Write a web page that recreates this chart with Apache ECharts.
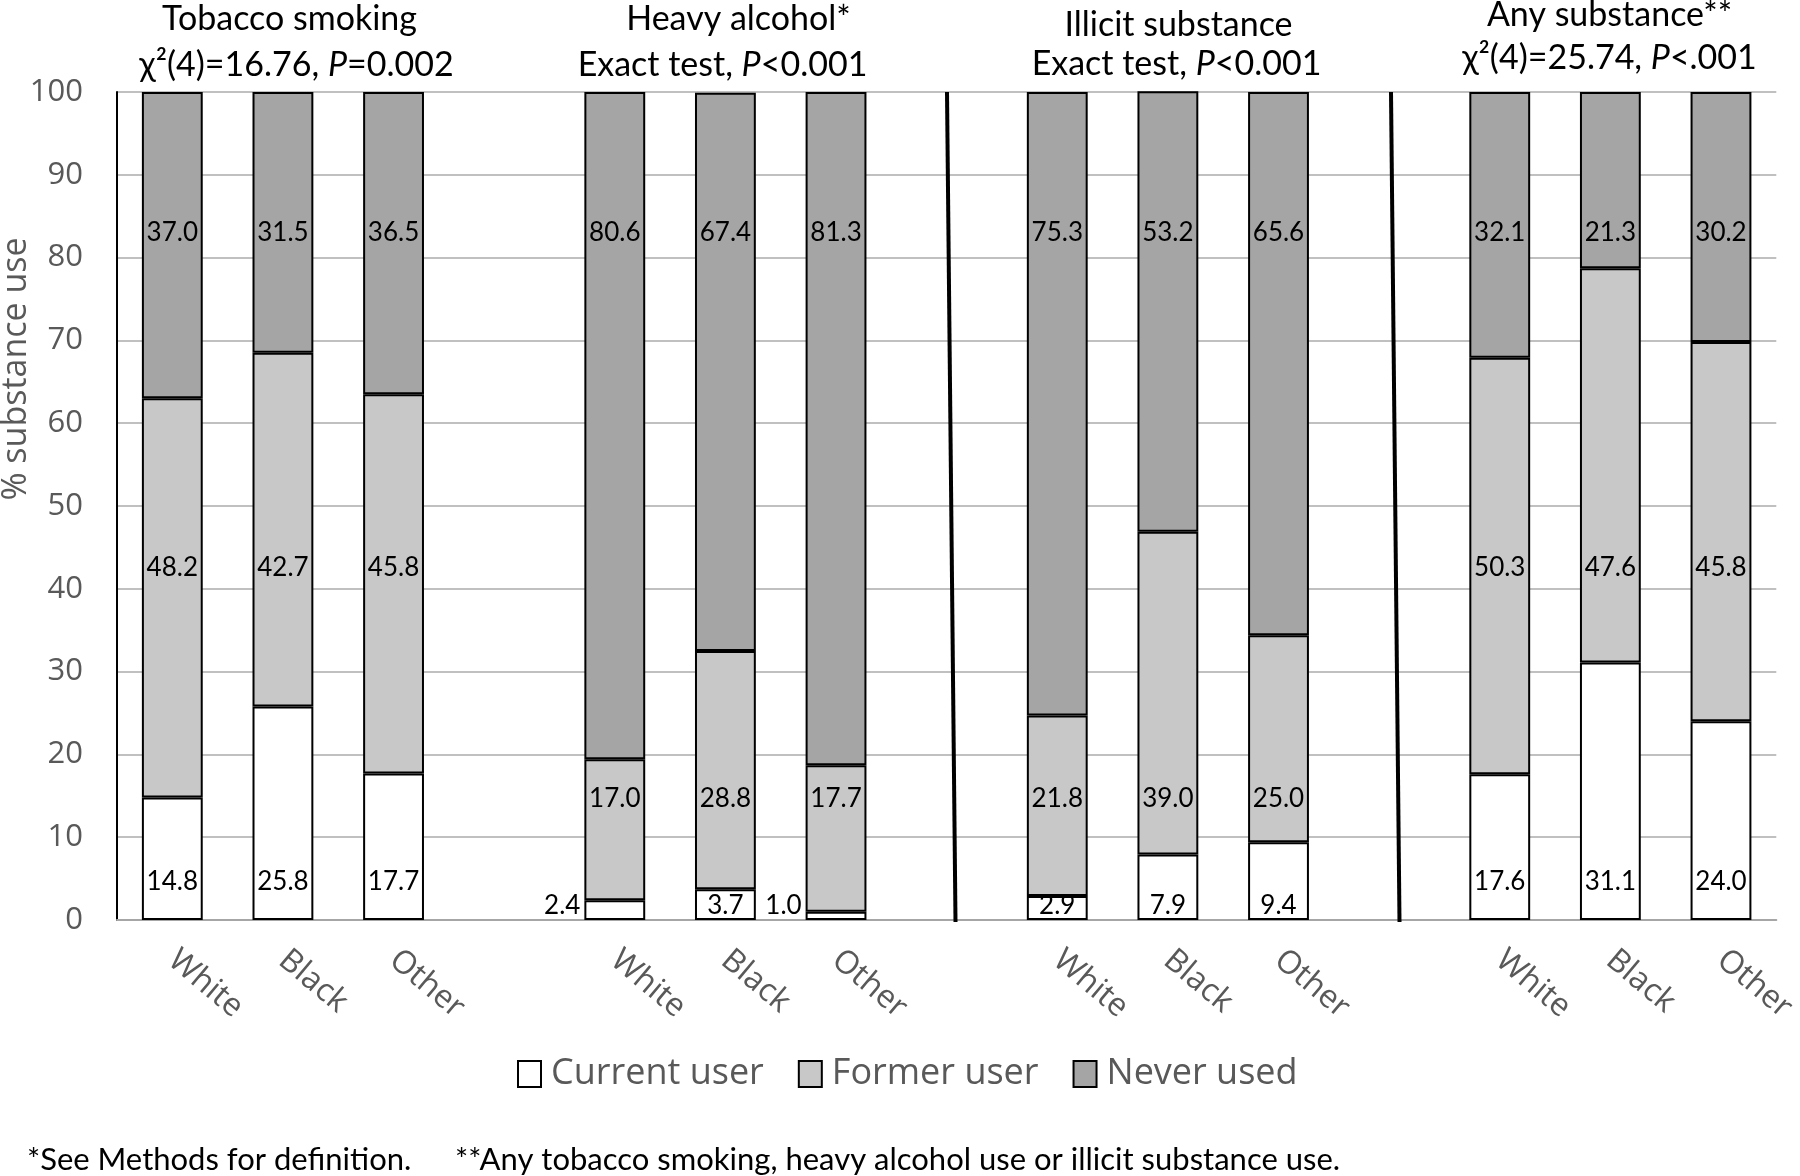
<!DOCTYPE html>
<html>
<head>
<meta charset="utf-8">
<script src="https://cdn.jsdelivr.net/npm/echarts@6/dist/echarts.min.js"></script>
<style>
html,body{margin:0;padding:0;background:#ffffff;}
#chart{width:1800px;height:1176px;}
</style>
</head>
<body>
<div id="chart"></div>
<script>
// ---------------- data ----------------
const categories = ['White','Black','Other','','White','Black','Other',' ','White','Black','Other','  ','White','Black','Other'];
const seriesNames = ['Current user','Former user','Never used'];
const currentUser = [14.8,25.8,17.7,null,2.4,3.7,1.0,null,2.9,7.9,9.4,null,17.6,31.1,24.0];
const formerUser  = [48.2,42.7,45.8,null,17.0,28.8,17.7,null,21.8,39.0,25.0,null,50.3,47.6,45.8];
const neverUsed   = [37.0,31.5,36.5,null,80.6,67.4,81.3,null,75.3,53.2,65.6,null,32.1,21.3,30.2];
const yTickValues = [0,10,20,30,40,50,60,70,80,90,100];
const groupTitles = ['Tobacco smoking','Heavy alcohol*','Illicit substance','Any substance**'];
const statPrefix  = ['\u03c7\u00b2(4)=16.76, ','Exact test, ','Exact test, ','\u03c7\u00b2(4)=25.74, '];
const statP       = ['P','P','P','P'];
const statSuffix  = ['=0.002','<0.001','<0.001','<.001'];
const yAxisName = '% substance use';
const footnotes = ['*See Methods for definition.','**Any tobacco smoking, heavy alcohol use or illicit substance use.'];

// ---------------- layout / style ----------------
const W = 1800, H = 1176;
const G = {left:117, right:18, top:92, bottom:256};
const plotW = W - G.left - G.right, plotH = H - G.top - G.bottom;
const slotW = plotW / categories.length;
const slotCenter = i => G.left + (i + 0.5) * slotW;
const pxPerUnit = plotH / (yTickValues[yTickValues.length-1] - yTickValues[0]);

const LABEL_FONT = 'Lato';
const AXIS_FONT = 'Open Sans';
const GREY_TEXT = '#595959';

// label levels (axis value where label centre sits) – styling choice
const LEVEL_NEVER = 83;
const LEVEL_FORMER_BY_GROUP = [42.6, 14.7, 14.7, 42.6];
const LEVEL_CURRENT_BIG = 4.6;
const LEVEL_CURRENT_SMALL = 1.7;

function buildData(vals, lows, kind) {
  return vals.map((v, i) => {
    if (v == null) return '-';
    const lo = lows ? lows[i] : 0;
    const centre = lo + v / 2;
    let level;
    if (kind === 'never') level = LEVEL_NEVER;
    else if (kind === 'former') level = LEVEL_FORMER_BY_GROUP[Math.floor(i / 4)];
    else level = v < 10 ? LEVEL_CURRENT_SMALL : LEVEL_CURRENT_BIG;
    const label = {offset: [0, (centre - level) * pxPerUnit]};
    if (kind === 'current' && v < 2.5) {
      label.position = 'left';
      label.distance = 4;
    } else {
      label.position = 'inside';
    }
    return {value: v, label: label};
  });
}
const lowFormer = currentUser.map(v => v == null ? null : v);
const lowNever = currentUser.map((v, i) => v == null ? null : v + formerUser[i]);

const fills = ['#ffffff', '#c8c8c8', '#a5a5a5'];
function barSeries(name, data, color) {
  return {
    name: name, type: 'bar', stack: 'total', barWidth: '55%',
    itemStyle: {color: color, borderColor: '#000000', borderWidth: 2},
    label: {show: true, color: '#000000', fontFamily: LABEL_FONT, fontSize: 26,
            formatter: p => Number(p.value).toFixed(1)},
    emphasis: {disabled: true},
    data: data
  };
}

// titles
const TITLE_MID = [1, 5, 9, 13];
const TITLE_DX1 = [6, 11, 7, -6];
const TITLE_DX2 = [13, -5, 5, -6];
const TITLE_BASE1 = [29, 29, 35, 25];
const TITLE_BASE2 = [75, 75, 74, 68];
const TITLE_FS = 34;
const graphics = [];
groupTitles.forEach((t, k) => {
  graphics.push({type: 'text', x: slotCenter(TITLE_MID[k]) + TITLE_DX1[k], y: TITLE_BASE1[k] - 0.3 * TITLE_FS,
    style: {text: t, fill: '#000', font: TITLE_FS + 'px ' + LABEL_FONT, align: 'center', verticalAlign: 'middle'}});
  graphics.push({type: 'text', x: slotCenter(TITLE_MID[k]) + TITLE_DX2[k], y: TITLE_BASE2[k] - 0.3 * TITLE_FS,
    style: {text: '{n|' + statPrefix[k] + '}{i|' + statP[k] + '}{n|' + statSuffix[k] + '}',
      fill: '#000', font: TITLE_FS + 'px ' + LABEL_FONT, align: 'center', verticalAlign: 'middle',
      rich: {n: {fontFamily: LABEL_FONT, fontSize: TITLE_FS, fill: '#000'},
             i: {fontFamily: LABEL_FONT, fontSize: TITLE_FS, fontStyle: 'italic', fill: '#000'}}}});
});
// group separators (in the empty gap slots)
[7, 11].forEach(s => {
  const c = slotCenter(s);
  graphics.push({type: 'line', z: 10, shape: {x1: c - 2.5, y1: G.top, x2: c + 6, y2: H - G.bottom + 2},
    style: {stroke: '#000', lineWidth: 4}});
});
// y axis name
graphics.push({type: 'text', x: 16, y: 369, rotation: Math.PI / 2,
  style: {text: yAxisName, fill: GREY_TEXT, font: '34px "' + AXIS_FONT + '"', align: 'center', verticalAlign: 'middle'}});
// footnotes
graphics.push({type: 'text', x: 27, y: 1160, style: {text: footnotes[0], fill: '#000', font: '31px ' + LABEL_FONT, align: 'left', verticalAlign: 'middle'}});
graphics.push({type: 'text', x: 455, y: 1160, style: {text: footnotes[1], fill: '#000', font: '31px ' + LABEL_FONT, align: 'left', verticalAlign: 'middle'}});

const option = {
  animation: false,
  backgroundColor: '#ffffff',
  grid: {left: G.left, right: G.right, top: G.top, bottom: G.bottom, containLabel: false},
  legend: {
    data: seriesNames, left: 512, top: 1051, icon: 'rect', itemWidth: 23, itemHeight: 26, itemGap: 34,
    textStyle: {fontFamily: AXIS_FONT, fontSize: 36, color: GREY_TEXT, padding: [0, 0, 0, 5]},
    selectedMode: false
  },
  xAxis: {
    type: 'category', data: categories,
    axisLine: {show: true, onZero: true, lineStyle: {color: '#a6a6a6', width: 2}},
    axisTick: {show: false},
    axisLabel: {interval: 0, rotate: -40, margin: 36, fontFamily: AXIS_FONT, fontSize: 32, color: GREY_TEXT}
  },
  yAxis: {
    type: 'value', min: yTickValues[0], max: yTickValues[yTickValues.length - 1],
    interval: yTickValues[1] - yTickValues[0],
    axisLine: {show: true, lineStyle: {color: '#000000', width: 2}},
    axisTick: {show: false},
    splitLine: {show: true, lineStyle: {color: '#ababab', width: 1.5}},
    axisLabel: {margin: 34, fontFamily: AXIS_FONT, fontSize: 31, color: GREY_TEXT}
  },
  series: [
    barSeries(seriesNames[0], buildData(currentUser, null, 'current'), fills[0]),
    barSeries(seriesNames[1], buildData(formerUser, lowFormer, 'former'), fills[1]),
    barSeries(seriesNames[2], buildData(neverUsed, lowNever, 'never'), fills[2])
  ],
  graphic: graphics
};
const chart = echarts.init(document.getElementById('chart'), null, {renderer: 'canvas'});
chart.setOption(option);
</script>
</body>
</html>
